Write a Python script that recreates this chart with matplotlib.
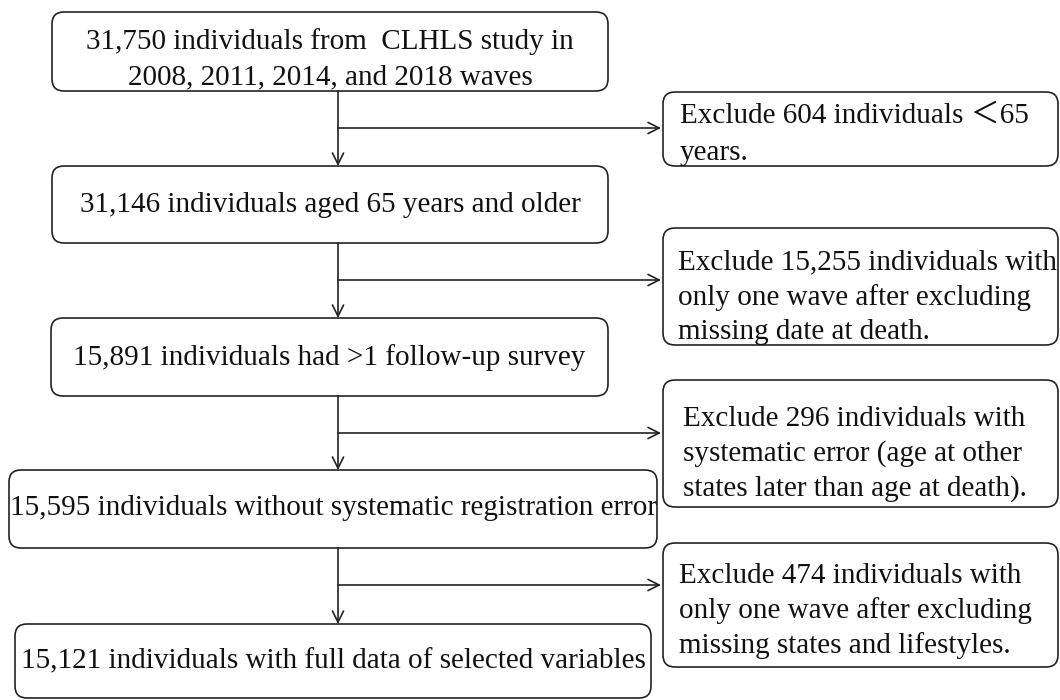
import matplotlib.pyplot as plt
from matplotlib.patches import FancyBboxPatch

# flow chart content
main_texts = [
    "31,750 individuals from  CLHLS study in\n2008, 2011, 2014, and 2018 waves",
    "31,146 individuals aged 65 years and older",
    "15,891 individuals had >1 follow-up survey",
    "15,595 individuals without systematic registration error",
    "15,121 individuals with full data of selected variables",
]
excl_texts = [
    "Exclude 604 individuals \uff1c65\nyears.",
    "Exclude 15,255 individuals with\nonly one wave after excluding\nmissing date at death.",
    "Exclude 296 individuals with\nsystematic error (age at other\nstates later than age at death).",
    "Exclude 474 individuals with\nonly one wave after excluding\nmissing states and lifestyles.",
]

# layout in pixels (x0, x1, y0, y1), y downwards
main_boxes = [(52, 608, 12, 91), (52, 608, 166, 243), (51, 608, 318, 396),
              (9, 657, 470, 548), (15, 651, 624, 698)]
main_text_y = [59, 205, 358, 508, 661]
excl_boxes = [(663, 1058, 92, 166), (663, 1058, 228, 345),
              (663, 1058, 380, 507), (663, 1058, 543, 667)]
excl_text_y = [134, 297, 454, 611]
excl_text_x = [680, 678, 683, 679]
excl_spacing = [1.55, 1.4, 1.4, 1.4]
arrow_y = [128, 280, 433, 585]
stem_x = 338

fam = ['Liberation Serif', 'Noto Sans CJK SC']
ec = '#222222'

fig = plt.figure(figsize=(10.6, 7), dpi=100)
ax = fig.add_axes([0, 0, 1, 1])
ax.set_xlim(0, 1060)
ax.set_ylim(700, 0)
ax.axis('off')


def box(b):
    x0, x1, y0, y1 = b
    p = FancyBboxPatch((x0, y0), x1 - x0, y1 - y0,
                       boxstyle="round,pad=0,rounding_size=12",
                       fc='white', ec=ec, lw=1.2)
    ax.add_patch(p)


for b, t, ty in zip(main_boxes, main_texts, main_text_y):
    box(b)
    ax.text((b[0] + b[1]) / 2, ty, t, ha='center', va='center',
            fontsize=21, family=fam, color='#111111', linespacing=1.45)

for b, t, ty, tx, ls in zip(excl_boxes, excl_texts, excl_text_y,
                            excl_text_x, excl_spacing):
    box(b)
    ax.text(tx, ty, t, ha='left', va='center',
            fontsize=21, family=fam, color='#111111', linespacing=ls)

ap = dict(arrowstyle='->', lw=1.2, color=ec, shrinkA=0, shrinkB=0,
          mutation_scale=20)
for i in range(4):
    ax.annotate('', xy=(stem_x, main_boxes[i + 1][2]),
                xytext=(stem_x, main_boxes[i][3]), arrowprops=ap)
    ax.annotate('', xy=(excl_boxes[i][0] - 2, arrow_y[i]),
                xytext=(stem_x, arrow_y[i]), arrowprops=ap)

fig.savefig('out.png', dpi=100)
